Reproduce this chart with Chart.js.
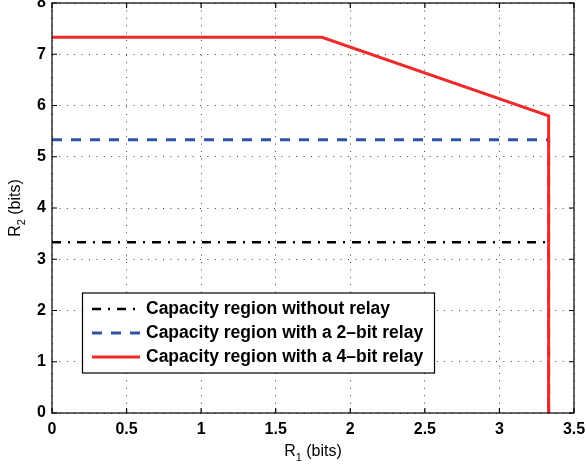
<!DOCTYPE html>
<html>
<head>
<meta charset="utf-8">
<script src="https://cdn.jsdelivr.net/npm/chart.js@4.4.0/dist/chart.umd.min.js"></script>
<style>
  body { margin: 0; background: #fff; }
</style>
</head>
<body>
<canvas id="chart" width="586" height="467"></canvas>
<script>
const ctx = document.getElementById("chart");

// series: corner points of each capacity region (R1, R2)
const seriesNames = [
  "Capacity region without relay",
  "Capacity region with a 2\u2013bit relay",
  "Capacity region with a 4\u2013bit relay"
];
const r1NoRelay = [0, 3.33, 3.33];
const r2NoRelay = [3.33, 3.33, 0];
const r1Relay2 = [0, 3.33, 3.33];
const r2Relay2 = [5.33, 5.33, 0];
const r1Relay4 = [0, 1.81, 3.33, 3.33];
const r2Relay4 = [7.33, 7.33, 5.8, 0];

const xTicks = [0, 0.5, 1, 1.5, 2, 2.5, 3, 3.5];
const yTicks = [0, 1, 2, 3, 4, 5, 6, 7, 8];

function pts(xs, ys) {
  return xs.map((x, i) => ({ x: x, y: ys[i] }));
}

const FONT = "'Liberation Sans', Arial, Helvetica, sans-serif";

// box, inward ticks, axis titles and legend, matlab style
const matlabFrame = {
  id: "matlabFrame",
  afterDraw(chart) {
    const c = chart.ctx;
    const a = chart.chartArea;
    const xs = chart.scales.x, ys = chart.scales.y;
    c.save();
    c.strokeStyle = "#000";
    c.lineWidth = 1.2;
    c.strokeRect(a.left, a.top, a.right - a.left, a.bottom - a.top);
    c.beginPath();
    xTicks.forEach(v => {
      const px = xs.getPixelForValue(v);
      c.moveTo(px, a.bottom); c.lineTo(px, a.bottom - 5);
      c.moveTo(px, a.top); c.lineTo(px, a.top + 5);
    });
    yTicks.forEach(v => {
      const py = ys.getPixelForValue(v);
      c.moveTo(a.left, py); c.lineTo(a.left + 5, py);
      c.moveTo(a.right, py); c.lineTo(a.right - 5, py);
    });
    c.stroke();

    // axis titles with subscripts
    function subTitle(main, sub, rest, x, y) {
      c.font = "16px " + FONT;
      const w1 = c.measureText(main).width;
      const w3 = c.measureText(rest).width;
      c.font = "11px " + FONT;
      const w2 = c.measureText(sub).width;
      let sx = x - (w1 + w2 + w3) / 2;
      c.fillStyle = "#000";
      c.textBaseline = "alphabetic";
      c.textAlign = "left";
      c.font = "16px " + FONT;
      c.fillText(main, sx, y);
      c.font = "11px " + FONT;
      c.fillText(sub, sx + w1, y + 5);
      c.font = "16px " + FONT;
      c.fillText(rest, sx + w1 + w2, y);
    }
    subTitle("R", "1", " (bits)", (a.left + a.right) / 2, 456);
    c.save();
    c.translate(20, (a.top + a.bottom) / 2);
    c.rotate(-Math.PI / 2);
    subTitle("R", "2", " (bits)", 0, 0);
    c.restore();

    // legend box
    const lx = 82.5, ly = 293, lw = 352, lh = 80;
    c.fillStyle = "#fff";
    c.fillRect(lx, ly, lw, lh);
    c.lineWidth = 1.2;
    c.strokeStyle = "#000";
    c.setLineDash([]);
    c.strokeRect(lx, ly, lw, lh);
    chart.data.datasets.forEach((ds, i) => {
      const rowY = 309 + i * 24;
      c.beginPath();
      c.strokeStyle = ds.borderColor;
      c.lineWidth = ds.borderWidth;
      c.setLineDash(ds.borderDash || []);
      c.moveTo(92, rowY);
      c.lineTo(140, rowY);
      c.stroke();
      c.setLineDash([]);
      c.fillStyle = "#000";
      c.font = "bold 17.5px " + FONT;
      c.textBaseline = "middle";
      c.textAlign = "left";
      c.fillText(ds.label, 146, rowY);
    });
    c.restore();
  }
};

new Chart(ctx, {
  type: "line",
  data: {
    datasets: [
      {
        label: seriesNames[0],
        data: pts(r1NoRelay, r2NoRelay),
        borderColor: "#000000",
        borderWidth: 2.5,
        borderDash: [9, 7, 2, 7],
        order: 3
      },
      {
        label: seriesNames[1],
        data: pts(r1Relay2, r2Relay2),
        borderColor: "#3052a8",
        borderWidth: 3,
        borderDash: [10, 9],
        order: 2
      },
      {
        label: seriesNames[2],
        data: pts(r1Relay4, r2Relay4),
        borderColor: "#ee2a2a",
        borderWidth: 3,
        order: 1
      }
    ]
  },
  options: {
    responsive: false,
    animation: false,
    layout: {
      padding: { top: 3, right: 12, left: 0, bottom: 0 }
    },
    elements: {
      point: { radius: 0, hoverRadius: 0 },
      line: { tension: 0, fill: false, borderCapStyle: "butt", borderJoinStyle: "miter" }
    },
    plugins: {
      legend: { display: false },
      tooltip: { enabled: false }
    },
    scales: {
      x: {
        type: "linear",
        min: 0,
        max: 3.5,
        afterBuildTicks: s => { s.ticks = xTicks.map(v => ({ value: v })); },
        afterFit: s => { s.height = 54; s.paddingLeft = 0; s.paddingRight = 0; },
        ticks: {
          color: "#000",
          padding: 7,
          maxRotation: 0,
          callback: v => String(v),
          font: { family: FONT, size: 16, weight: "bold" }
        },
        grid: {
          color: "rgba(0,0,0,0.75)",
          lineWidth: 1,
          drawTicks: false
        },
        border: { display: false, dash: [1, 6.4] }
      },
      y: {
        type: "linear",
        min: 0,
        max: 8,
        afterBuildTicks: s => { s.ticks = yTicks.map(v => ({ value: v })); },
        afterFit: s => { s.width = 52; s.paddingTop = 0; s.paddingBottom = 0; },
        ticks: {
          color: "#000",
          padding: 6,
          callback: v => String(v),
          font: { family: FONT, size: 16, weight: "bold" }
        },
        grid: {
          color: "rgba(0,0,0,0.75)",
          lineWidth: 1,
          drawTicks: false
        },
        border: { display: false, dash: [1, 6.4] }
      }
    }
  },
  plugins: [matlabFrame]
});
</script>
</body>
</html>
